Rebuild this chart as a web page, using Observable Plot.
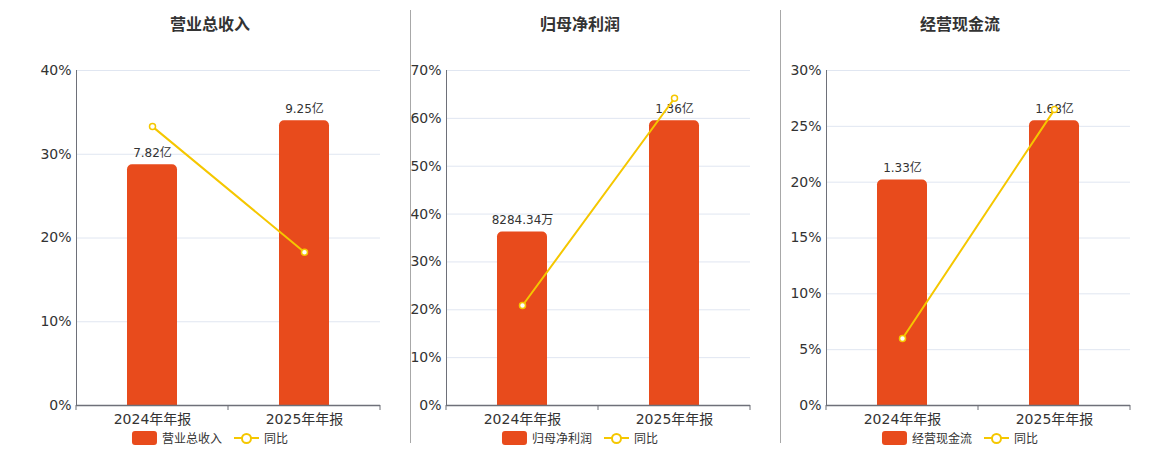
<!DOCTYPE html>
<html>
<head>
<meta charset="utf-8">
<script src="https://cdn.jsdelivr.net/npm/d3@7"></script>
<script src="https://cdn.jsdelivr.net/npm/@observablehq/plot@0.6"></script>
<style>
  body { margin: 0; background: #fff; }
  #root { position: relative; width: 1160px; height: 450px; overflow: hidden; font-family: "DejaVu Sans", "Noto Sans CJK SC", sans-serif; color: #333; }
  .title { position: absolute; top: 11px; transform: translateX(-50%); font-size: 16px; font-weight: bold; color: #333; white-space: nowrap; font-family: "Noto Sans CJK SC", sans-serif; }
  .panel { position: absolute; top: 40px; }
  .sep { position: absolute; top: 10px; height: 433px; width: 1px; background: #a8a8a8; }
  .legend { position: absolute; top: 429px; transform: translateX(-50%); display: flex; align-items: center; font-size: 12px; color: #333; white-space: nowrap; font-family: "Noto Sans CJK SC", sans-serif; }
  .sw-bar { width: 25px; height: 14px; border-radius: 3px; background: #E84B1C; margin-right: 5px; }
  .sw-line { position: relative; width: 25px; height: 14px; margin-left: 12px; margin-right: 5px; }
  .sw-line::before { content: ""; position: absolute; left: 0; right: 0; top: 6px; height: 2px; background: #F5C700; }
  .sw-line::after { content: ""; position: absolute; left: 7px; top: 2px; width: 7px; height: 7px; border: 2px solid #F5C700; border-radius: 50%; background: #fff; }
</style>
</head>
<body>
<div id="root"></div>
<script>
// ---- data ----
const categories = ["2024年年报", "2025年年报"];
const panelTitles = ["营业总收入", "归母净利润", "经营现金流"];
const revenueValues = [7.82, 9.25];           // 亿
const revenueLabels = ["7.82亿", "9.25亿"];
const revenueYoY = [33.3, 18.3];               // %
const profitValues = [0.828434, 1.36];         // 亿
const profitLabels = ["8284.34万", "1.36亿"];
const profitYoY = [20.9, 64.2];
const cashValues = [1.33, 1.68];               // 亿
const cashLabels = ["1.33亿", "1.68亿"];
const cashYoY = [6.0, 26.5];
const revenueTicks = [0, 10, 20, 30, 40];
const profitTicks = [0, 10, 20, 30, 40, 50, 60, 70];
const cashTicks = [0, 5, 10, 15, 20, 25, 30];
const yoyLegend = "同比";

// ---- layout / style ----
const BAR = "#E84B1C", LINE = "#F5C700", GRID = "#E0E6F1", AXIS = "#6E7079";
const FONT = '"DejaVu Sans", "Noto Sans CJK SC", sans-serif';
const panels = [
  {title: panelTitles[0], values: revenueValues, labels: revenueLabels, yoy: revenueYoY, ticks: revenueTicks, left: 0, ml: 76, center: 210},
  {title: panelTitles[1], values: profitValues, labels: profitLabels, yoy: profitYoY, ticks: profitTicks, left: 410, ml: 36, center: 580},
  {title: panelTitles[2], values: cashValues, labels: cashLabels, yoy: cashYoY, ticks: cashTicks, left: 780, ml: 46, center: 960}
];
const root = document.getElementById("root");
const innerW = 304, mr = 30, mt = 30, mb = 25, H = 390;

panels.forEach((p, i) => {
  const pctMax = p.ticks[p.ticks.length - 1];
  const barAxisMax = d3.max(p.values) / 0.85;   // hidden secondary axis for bars
  const rows = categories.map((c, j) => ({
    cat: c,
    value: p.values[j],
    barY: p.values[j] / barAxisMax * pctMax,
    label: p.labels[j],
    yoy: p.yoy[j]
  }));
  const below = -pctMax * 0.03;
  const chart = Plot.plot({
    width: p.ml + innerW + mr,
    height: H,
    marginLeft: p.ml, marginRight: mr, marginTop: mt, marginBottom: mb,
    style: {fontFamily: FONT, fontSize: "14px", color: "#333", background: "transparent", overflow: "visible"},
    x: {domain: categories, paddingInner: 0.671, paddingOuter: 0.3355, label: null},
    y: {domain: [0, pctMax], label: null},
    marks: [
      Plot.ruleY(p.ticks.filter(t => t > 0), {stroke: GRID, strokeWidth: 1}),
      Plot.barY(rows, {x: "cat", y1: below, y2: "barY", fill: BAR, rx: 5, clip: true}),
      Plot.text(rows, {x: "cat", y: "barY", text: "label", dy: -12, fontSize: 12, fill: "#333"}),
      Plot.line(rows, {x: "cat", y: "yoy", stroke: LINE, strokeWidth: 2}),
      Plot.dot(rows, {x: "cat", y: "yoy", r: 3, fill: "#fff", stroke: LINE, strokeWidth: 1.5}),
      Plot.frame({anchor: "left", stroke: AXIS, strokeWidth: 1}),
      Plot.ruleY([0], {stroke: AXIS, strokeWidth: 1.5}),
      Plot.axisY({ticks: p.ticks, tickFormat: d => d + "%", tickSize: 0, tickPadding: 5, fontSize: 14, fill: "#333"}),
      Plot.axisX({tickSize: 0, tickPadding: 9, fontSize: 14, fill: "#333"})
    ]
  });
  // ticks at the band boundaries on the category axis
  const xs = chart.scale("x"), ys = chart.scale("y");
  const y0 = ys.apply(0);
  const gap = (xs.step - xs.bandwidth) / 2;
  const bounds = categories.map(c => xs.apply(c) - gap);
  bounds.push(xs.apply(categories[categories.length - 1]) + xs.bandwidth + gap);
  const g = d3.select(chart).append("g").attr("stroke", AXIS).attr("stroke-width", 1);
  bounds.forEach(b => g.append("line").attr("x1", b).attr("x2", b).attr("y1", y0).attr("y2", y0 + 5));

  const wrap = document.createElement("div");
  wrap.className = "panel";
  wrap.style.left = p.left + "px";
  wrap.appendChild(chart);
  root.appendChild(wrap);

  const t = document.createElement("div");
  t.className = "title";
  t.style.left = p.center + "px";
  t.textContent = p.title;
  root.appendChild(t);

  const lg = document.createElement("div");
  lg.className = "legend";
  lg.style.left = p.center + "px";
  lg.innerHTML = `<div class="sw-bar"></div><span>${p.title}</span><div class="sw-line"></div><span>${yoyLegend}</span>`;
  root.appendChild(lg);

  if (i > 0) {
    const s = document.createElement("div");
    s.className = "sep";
    s.style.left = p.left + "px";
    root.appendChild(s);
  }
});
</script>
</body>
</html>
